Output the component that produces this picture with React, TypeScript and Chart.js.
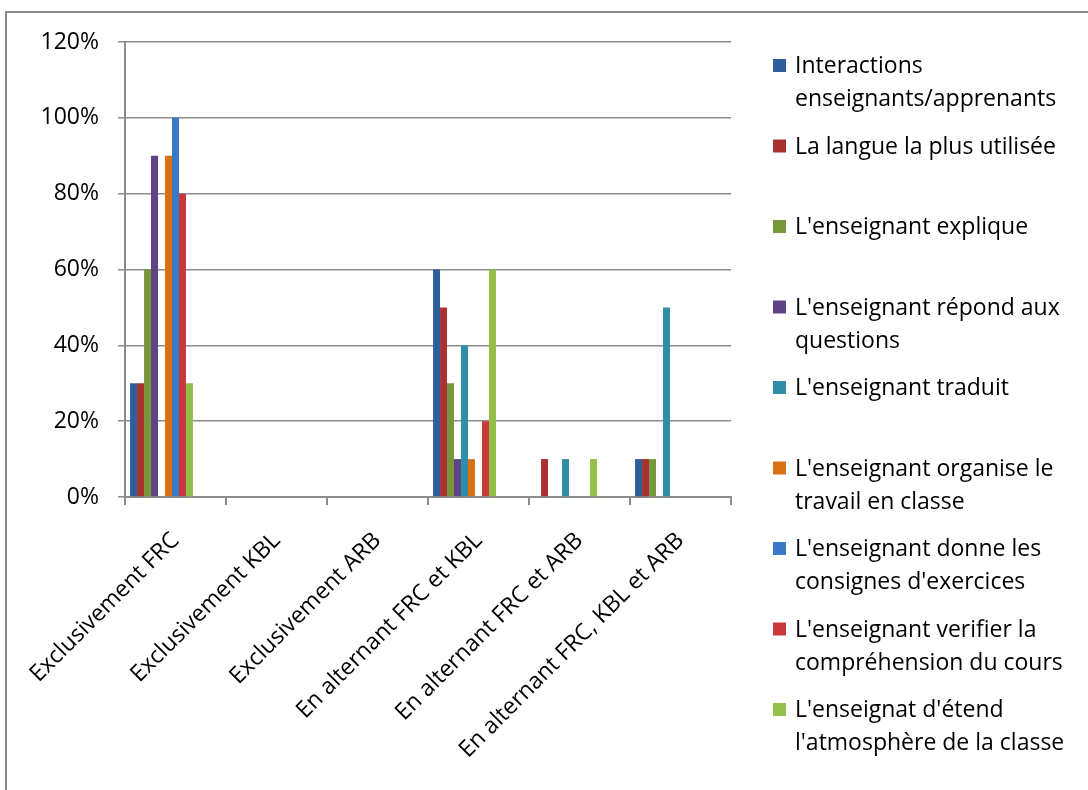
import React, { useEffect, useRef } from "react";
import { Chart, registerables } from "chart.js";

Chart.register(...registerables);

const categories = [
  "Exclusivement FRC",
  "Exclusivement KBL",
  "Exclusivement ARB",
  "En alternant FRC et KBL",
  "En alternant FRC et ARB",
  "En alternant FRC, KBL et ARB",
];

const interactions = [30, 0, 0, 60, 0, 10];
const langue = [30, 0, 0, 50, 10, 10];
const explique = [60, 0, 0, 30, 0, 10];
const repond = [90, 0, 0, 10, 0, 0];
const traduit = [0, 0, 0, 40, 10, 50];
const organise = [90, 0, 0, 10, 0, 0];
const consignes = [100, 0, 0, 0, 0, 0];
const verifier = [80, 0, 0, 20, 0, 0];
const atmosphere = [30, 0, 0, 60, 10, 0];

const seriesValues = [interactions, langue, explique, repond, traduit, organise, consignes, verifier, atmosphere];

const seriesLabels = [
  ["Interactions", "enseignants/apprenants"],
  ["La langue la plus utilisée"],
  ["L'enseignant explique"],
  ["L'enseignant répond aux", "questions"],
  ["L'enseignant traduit"],
  ["L'enseignant organise le", "travail en classe"],
  ["L'enseignant donne les", "consignes d'exercices"],
  ["L'enseignant verifier la", "compréhension du cours"],
  ["L'enseignat d'étend", "l'atmosphère de la classe"],
];

const seriesColors = [
  "#2F5E9C",
  "#A93231",
  "#77973A",
  "#5E4386",
  "#2F8DA8",
  "#DB7116",
  "#3A79C6",
  "#C9393B",
  "#94BF48",
];

const yTicks = [0, 20, 40, 60, 80, 100, 120];

// empty slots kept at the end of each cluster, as in the original layout
const emptySlots = 4;

const FONT = '"Open Sans", "DejaVu Sans", sans-serif';
const FONT_SIZE = 23;
const GRID = "#8c8c8c";

const legendPlugin = {
  id: "wrappedLegend",
  afterDraw(chart: any) {
    const ctx = chart.ctx;
    ctx.save();
    ctx.font = `${FONT_SIZE}px ${FONT}`;
    ctx.textBaseline = "alphabetic";
    ctx.textAlign = "left";
    seriesLabels.forEach((lines, i) => {
      const base = 73 + i * 80.5;
      ctx.fillStyle = seriesColors[i];
      ctx.fillRect(773, base - 14, 13, 13);
      ctx.fillStyle = "#000";
      lines.forEach((line, k) => {
        ctx.fillText(line, 795, base + k * 33);
      });
    });
    ctx.restore();
  },
};

export default function App() {
  const ref = useRef<HTMLCanvasElement>(null);

  useEffect(() => {
    if (!ref.current) return;
    const datasets: any[] = seriesValues.map((vals, i) => ({
      label: seriesLabels[i].join(" "),
      data: vals,
      backgroundColor: seriesColors[i],
      borderWidth: 0,
      barPercentage: 1,
      categoryPercentage: 0.9,
    }));
    for (let s = 0; s < emptySlots; s++) {
      datasets.push({
        label: "",
        data: [],
        backgroundColor: "rgba(0,0,0,0)",
        borderWidth: 0,
        barPercentage: 1,
        categoryPercentage: 0.9,
      });
    }
    const chart = new Chart(ref.current, {
      type: "bar",
      data: { labels: categories, datasets },
      options: {
        animation: false,
        responsive: false,
        layout: { padding: { top: 42, right: 357, left: 0, bottom: 0 } },
        plugins: {
          legend: { display: false },
          tooltip: { enabled: false },
        },
        scales: {
          x: {
            offset: true,
            grid: {
              display: true,
              offset: true,
              drawOnChartArea: false,
              drawTicks: true,
              tickLength: 8,
              color: GRID,
              lineWidth: 2,
            },
            border: { display: true, color: GRID, width: 2 },
            ticks: {
              color: "#000",
              font: { family: FONT, size: FONT_SIZE },
              minRotation: 45,
              maxRotation: 45,
              padding: 22,
              autoSkip: false,
            },
            afterFit(scale: any) {
              scale.height = 293;
            },
          },
          y: {
            min: 0,
            max: 120,
            afterBuildTicks(scale: any) {
              scale.ticks = yTicks.map((v) => ({ value: v }));
            },
            grid: {
              color: GRID,
              lineWidth: 1.5,
              drawTicks: true,
              tickLength: 7,
            },
            border: { display: true, color: GRID, width: 2 },
            ticks: {
              color: "#000",
              font: { family: FONT, size: FONT_SIZE },
              padding: 19,
              callback: (v: any) => `${v}%`,
            },
            afterFit(scale: any) {
              scale.width = 125;
            },
          },
        },
      },
      plugins: [legendPlugin],
    });
    return () => chart.destroy();
  }, []);

  return (
    <div style={{ position: "absolute", left: 0, top: 0, width: 1088, height: 790, overflow: "hidden", background: "#fff" }}>
      <div
        style={{
          position: "absolute",
          left: 5,
          top: 11,
          width: 1200,
          height: 900,
          border: "2px solid #8a8a8a",
        }}
      />
      <canvas ref={ref} width={1088} height={790} style={{ position: "absolute", left: 0, top: 0 }} />
    </div>
  );
}
